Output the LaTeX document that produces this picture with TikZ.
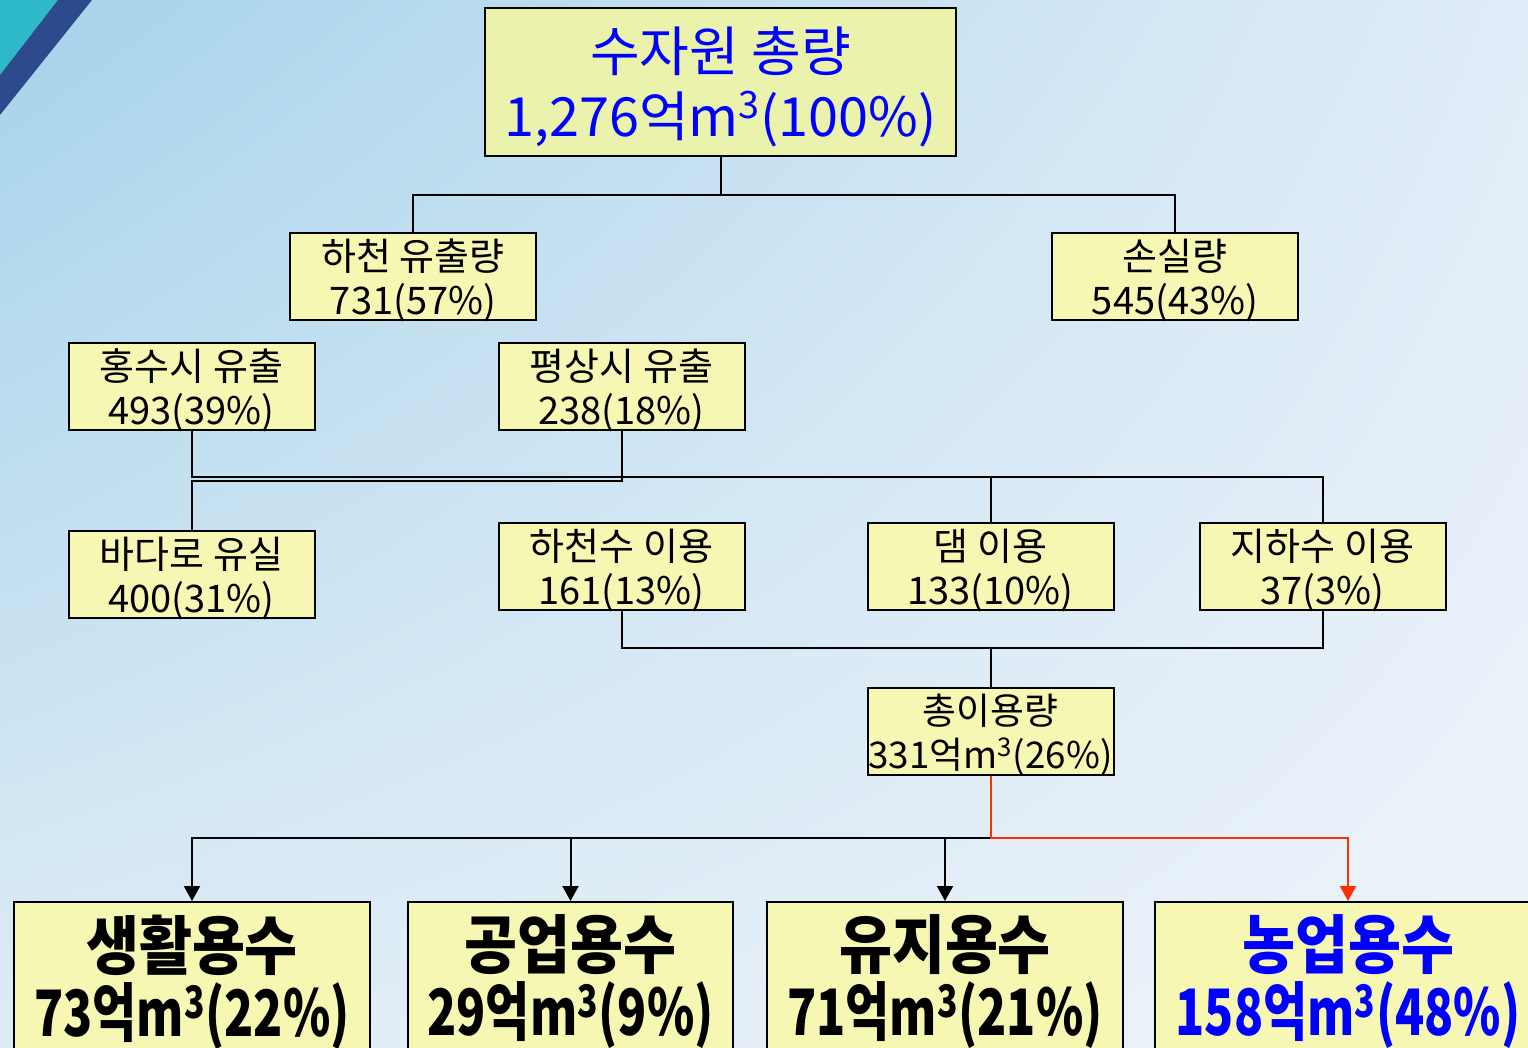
\documentclass[tikz,border=0pt]{standalone}
\usepackage{fontspec}
\usepackage{graphicx}
\setmainfont{Noto Sans CJK KR}
\usepackage{tikz}
\usetikzlibrary{arrows.meta,shadings}

\definecolor{boxyellow}{RGB}{246,247,178}
\definecolor{topyellow}{RGB}{234,242,172}
\definecolor{hiblue}{RGB}{0,0,255}
\definecolor{flowred}{RGB}{255,48,0}
\definecolor{bgA}{RGB}{165,210,234}
\definecolor{bgB}{RGB}{225,237,248}
\definecolor{bgC}{RGB}{222,236,246}
\definecolor{bgD}{RGB}{238,243,250}
\definecolor{cornerteal}{RGB}{45,185,200}
\definecolor{cornernavy}{RGB}{45,75,140}

\newcommand{\usetwo}[2]{\scalebox{0.9}[1]{#1}\\\scalebox{0.75}[1]{#2}}

\begin{document}
\begin{tikzpicture}[x=0.5pt, y=-0.5pt,
  base/.style={draw, line width=1pt, fill=boxyellow, inner sep=0pt, align=center},
  box/.style={base, text depth=0pt, minimum width=123pt, minimum height=43.5pt,
    font=\fontsize{19}{22}\selectfont},
  usebox/.style={base, minimum height=80pt, font=\fontsize{32}{33.5}\selectfont\bfseries},
  link/.style={line width=1pt},
  down/.style={link, -{Triangle[width=8pt,length=7.5pt]}},
  hot/.style={down, draw=flowred}]

\useasboundingbox (0,0) rectangle (1528,1048);
\clip (0,0) rectangle (1528,1048);
\shade[upper left=bgA, upper right=bgB, lower left=bgC, lower right=bgD] (0,0) rectangle (1528,1048);
\fill[cornerteal] (0,0) -- (58,0) -- (0,75) -- cycle;
\fill[cornernavy] (58,0) -- (92,0) -- (0,115) -- (0,75) -- cycle;

% total amount
\node[box, fill=topyellow, minimum width=235.5pt, minimum height=74pt, text=hiblue,
  font=\fontsize{27}{32.5}\selectfont] (sum) at (720.5,82) {수자원 총량\\1,276억m\textsuperscript{3}(100\%)};

% runoff and loss
\node[box] (runoff) at (413,276.5) {하천 유출량\\731(57\%)};
\node[box] (loss) at (1175,276.5) {손실량\\545(43\%)};
\coordinate (sj) at (720.5,195);
\draw[link] (sum) -- (sj);
\draw[link] (runoff) |- (sj) -| (loss);

% flood / normal flow
\node[box] (flood) at (191.5,387) {홍수시 유출\\493(39\%)};
\node[box] (usual) at (621.5,387) {평상시 유출\\238(18\%)};

\node[box] (sea) at (191.5,574.5) {바다로 유실\\400(31\%)};
\node[box] (riveruse) at (621.5,566.5) {하천수 이용\\161(13\%)};
\node[box] (dam) at (990.5,566.5) {댐 이용\\133(10\%)};
\node[box] (ground) at (1322.5,566.5) {지하수 이용\\37(3\%)};

\coordinate (fj) at (191.5,477);
\coordinate (nj) at (621.5,481);
\draw[link] (flood) -- (fj) -| (ground);
\draw[link] (dam) -- (dam |- fj);
\draw[link] (usual) -- (nj) -| (sea);

% total use
\node[box, font=\fontsize{18.4}{22}\selectfont] (used) at (990.5,731.5) {총이용량\\331억m\textsuperscript{3}(26\%)};
\coordinate (uj) at (990.5,648);
\draw[link] (riveruse) |- (uj) -| (ground);
\draw[link] (used) -- (uj);

% uses
\node[usebox, minimum width=178pt] (domestic) at (192,982) {\usetwo{생활용수}{73억m\textsuperscript{3}(22\%)}};
\node[usebox, minimum width=162.5pt] (industry) at (570.5,982) {\usetwo{공업용수}{29억m\textsuperscript{3}(9\%)}};
\node[usebox, minimum width=178pt] (instream) at (945,982) {\usetwo{유지용수}{71억m\textsuperscript{3}(21\%)}};
\node[usebox, minimum width=193pt, text=hiblue] (farm) at (1348,982) {\usetwo{농업용수}{158억m\textsuperscript{3}(48\%)}};

\coordinate (bj) at (990.5,838);
\draw[down] (bj) -| (domestic);
\draw[down] (industry |- bj) -- (industry);
\draw[down] (instream |- bj) -- (instream);
\draw[hot] (used) -- (bj) -| (farm);
\end{tikzpicture}
\end{document}
